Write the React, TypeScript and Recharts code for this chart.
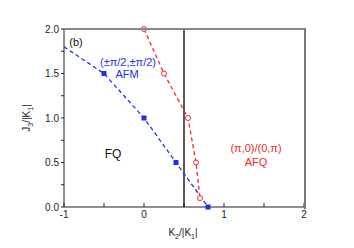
import { ComposedChart, Line, XAxis, YAxis, ReferenceLine } from 'recharts';

// phase boundary: blue (filled squares)
const blueK2 = [-1, -0.5, 0, 0.4, 0.8];
const blueJ3 = [1.8, 1.5, 1.0, 0.5, 0.0];
const blueMarked = [false, true, true, true, true];

// phase boundary: red (open circles)
const redK2 = [0, 0.25, 0.55, 0.65, 0.7];
const redJ3 = [2.0, 1.5, 1.0, 0.5, 0.1];

const verticalK2 = 0.5;

const xTicks = [-1, -0.5, 0, 0.5, 1, 1.5, 2];
const xMajor = [-1, 0, 1, 2];
const yTicks = [0, 0.25, 0.5, 0.75, 1, 1.25, 1.5, 1.75, 2];
const yMajor = [0, 0.5, 1, 1.5, 2];

const BLUE = '#1f2ff0';
const RED = '#f42a2a';
const FONT = '"Liberation Sans", Arial, sans-serif';

const blueData = blueK2.map((x, i) => ({ x, y: blueJ3[i], m: blueMarked[i] }));
const redData = redK2.map((x, i) => ({ x, y: redJ3[i] }));

const Square = (p: any) => {
    if (!p.payload || !p.payload.m) return <g key={p.key} />;
    return <rect key={p.key} x={p.cx - 2.5} y={p.cy - 2.5} width={5} height={5} fill={BLUE} />;
};

const txt = (style: any) => ({ position: 'absolute' as const, fontFamily: FONT, whiteSpace: 'nowrap' as const, transform: 'translate(-50%,-50%)', lineHeight: 1, ...style });

export default function App() {
    return (
        <div style={{ position: 'absolute', left: 0, top: 0, width: 354, height: 248, background: '#fff' }}>
            <ComposedChart width={354} height={248} margin={{ top: 29, right: 50, left: 0, bottom: 0 }}>
                <XAxis xAxisId="b" type="number" dataKey="x" domain={[-1, 2]} ticks={xTicks} height={41}
                    stroke="#222" tickSize={-4} tickMargin={8}
                    tick={{ fontSize: 10, fill: '#222', fontFamily: FONT }}
                    tickFormatter={(v: number) => (xMajor.includes(v) ? String(v) : '')} />
                <YAxis yAxisId="l" type="number" domain={[0, 2]} ticks={yTicks} width={64}
                    stroke="#222" tickSize={3} tickMargin={2}
                    tick={{ fontSize: 10, fill: '#222', fontFamily: FONT }}
                    tickFormatter={(v: number) => (yMajor.includes(v) ? v.toFixed(1) : '')} />

                <ReferenceLine xAxisId="b" yAxisId="l" x={verticalK2} stroke="#222" strokeWidth={1.5} />

                <Line xAxisId="b" yAxisId="l" data={blueData} dataKey="y" type="linear" stroke={BLUE} strokeWidth={1.3}
                    strokeDasharray="4 3" dot={Square} activeDot={false} isAnimationActive={false} />
                <Line xAxisId="b" yAxisId="l" data={redData} dataKey="y" type="linear" stroke={RED} strokeWidth={1.3}
                    strokeDasharray="4 3" dot={{ r: 2.5, fill: '#fff', stroke: RED, strokeWidth: 1, strokeDasharray: '' }}
                    activeDot={false} isAnimationActive={false} />
            </ComposedChart>

            {/* frame top/right edges around plot area */}
            <div style={{ position: 'absolute', zIndex: 5, left: 64, top: 28, width: 240, height: 179, borderTop: '2px solid #888', borderRight: '2px solid #777', pointerEvents: 'none' }} />

            <div style={txt({ left: 76, top: 42, fontSize: 11, color: '#111' })}>(b)</div>
            <div style={txt({ left: 128, top: 62, fontSize: 11, color: BLUE })}>(±π/2,±π/2)</div>
            <div style={txt({ left: 127, top: 74, fontSize: 11, color: BLUE })}>AFM</div>
            <div style={txt({ left: 113, top: 154, fontSize: 12, color: '#111' })}>FQ</div>
            <div style={txt({ left: 256, top: 148, fontSize: 11, color: RED })}>(π,0)/(0,π)</div>
            <div style={txt({ left: 256, top: 162, fontSize: 11, color: RED })}>AFQ</div>
            <div style={txt({ left: 183, top: 234, fontSize: 10, color: '#222' })}>
                K<sub style={{ fontSize: 7 }}>2</sub>/|K<sub style={{ fontSize: 7 }}>1</sub>|
            </div>
            <div style={txt({ left: 28, top: 118, fontSize: 10, color: '#222', transform: 'translate(-50%,-50%) rotate(-90deg)' })}>
                J<sub style={{ fontSize: 7 }}>3</sub>/|K<sub style={{ fontSize: 7 }}>1</sub>|
            </div>
        </div>
    );
}
